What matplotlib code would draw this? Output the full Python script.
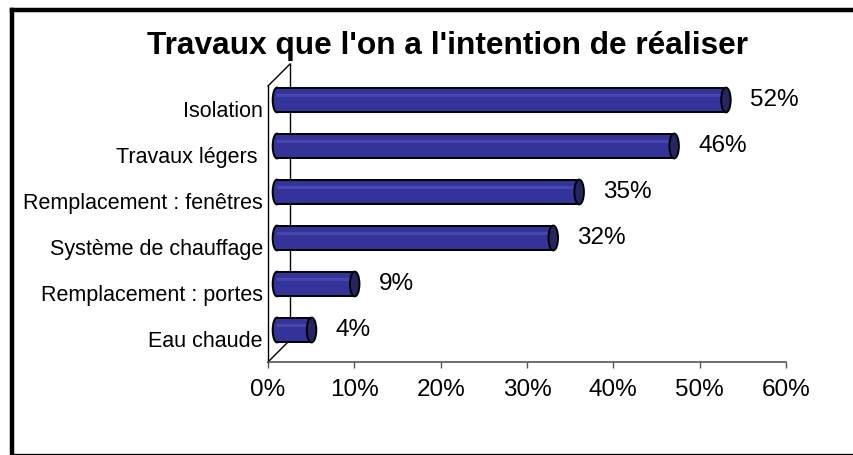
import numpy as np
import matplotlib
matplotlib.use("Agg")
import matplotlib.pyplot as plt
import matplotlib.transforms as mtransforms
from matplotlib.patches import Ellipse
from matplotlib.lines import Line2D

plt.rcParams['font.family'] = ['Liberation Sans', 'DejaVu Sans']

# data
categories = ["Eau chaude", "Remplacement : portes", "Système de chauffage",
              "Remplacement : fenêtres", "Travaux légers ", "Isolation"]
values = [4, 9, 32, 35, 46, 52]
xticks = [0, 10, 20, 30, 40, 50, 60]
title = "Travaux que l'on a l'intention de réaliser"

W, H = 854, 455
fig = plt.figure(figsize=(W / 100, H / 100), dpi=100)

# outer frame (cut on right and bottom like the original): left, top, bottom as open lines
fx, fy = 12 / W, 1 - 10 / H
fig.add_artist(Line2D([fx, fx], [-0.01, fy], color='black', lw=3.2, transform=fig.transFigure,
                      solid_capstyle='projecting'))
fig.add_artist(Line2D([fx, 1.05], [fy, fy], color='black', lw=3.2, transform=fig.transFigure,
                      solid_capstyle='projecting'))
fig.add_artist(Line2D([fx, 1.05], [0, 0], color='black', lw=2.4, transform=fig.transFigure))

ax_l, ax_b, ax_w, ax_h = 268 / W, 93 / H, 518 / W, 276 / H
ax = fig.add_axes([ax_l, ax_b, ax_w, ax_h])
ax.set_xlim(0, 60)
ax.set_ylim(-0.5, len(categories) - 0.5)

# 3d depth of the wall
depth = 22
dx = depth / (ax_w * W)
dy = depth / (ax_h * H)
ax.plot([dx, dx], [dy, 1 + dy], color='black', lw=1, transform=ax.transAxes, clip_on=False)
ax.plot([0, dx], [0, dy], color='black', lw=1, transform=ax.transAxes, clip_on=False)
ax.plot([0, dx], [1, 1 + dy], color='black', lw=1, transform=ax.transAxes, clip_on=False)

# bars sit half way into the depth
bar_tr = mtransforms.offset_copy(ax.transData, fig=fig, x=9, y=9, units='dots')
bh = 0.54
body = '#333399'
for i, v in enumerate(values):
    ax.add_patch(Ellipse((0, i), 1.0, bh, facecolor=body, edgecolor='black', lw=1.4,
                         transform=bar_tr, zorder=2, clip_on=False))
    ax.barh(i, v, height=bh, left=0, color=body, lw=0, transform=bar_tr, zorder=3, clip_on=False)
    ax.barh(i + 0.1, v, height=0.05, left=0, color='#4646ad', lw=0, transform=bar_tr,
            zorder=3.5, clip_on=False)
    ax.plot([0, v], [i + bh / 2, i + bh / 2], color='black', lw=1.4, transform=bar_tr,
            zorder=4, clip_on=False)
    ax.plot([0, v], [i - bh / 2, i - bh / 2], color='black', lw=1.4, transform=bar_tr,
            zorder=4, clip_on=False)
    ax.add_patch(Ellipse((v, i), 1.1, bh, facecolor='#25255f', edgecolor='black', lw=1.4,
                         transform=bar_tr, zorder=5, clip_on=False))
    ax.annotate(f"{v}%", (v, i), xycoords=bar_tr, xytext=(24, 0), textcoords='offset pixels',
                ha='left', va='center', fontsize=17.5, color='black')

ax.set_yticks(range(len(categories)))
ax.set_yticklabels(categories, fontsize=15.5)
ax.set_xticks(xticks)
ax.set_xticklabels([f"{t}%" for t in xticks], fontsize=17.5)
ax.tick_params(axis='y', length=0, pad=3.6)
ax.tick_params(axis='x', length=4, width=1, color='#555555', pad=8)

for s in ['top', 'right']:
    ax.spines[s].set_visible(False)
ax.spines['left'].set_color('black')
ax.spines['left'].set_linewidth(1)
ax.spines['bottom'].set_color('#555555')
ax.spines['bottom'].set_linewidth(1.2)
ax.patch.set_visible(False)

fig.text(448 / W, 1 - 46 / H, title, ha='center', va='center', fontsize=22.8,
         fontweight='bold')

fig.savefig("out.png", dpi=100)
